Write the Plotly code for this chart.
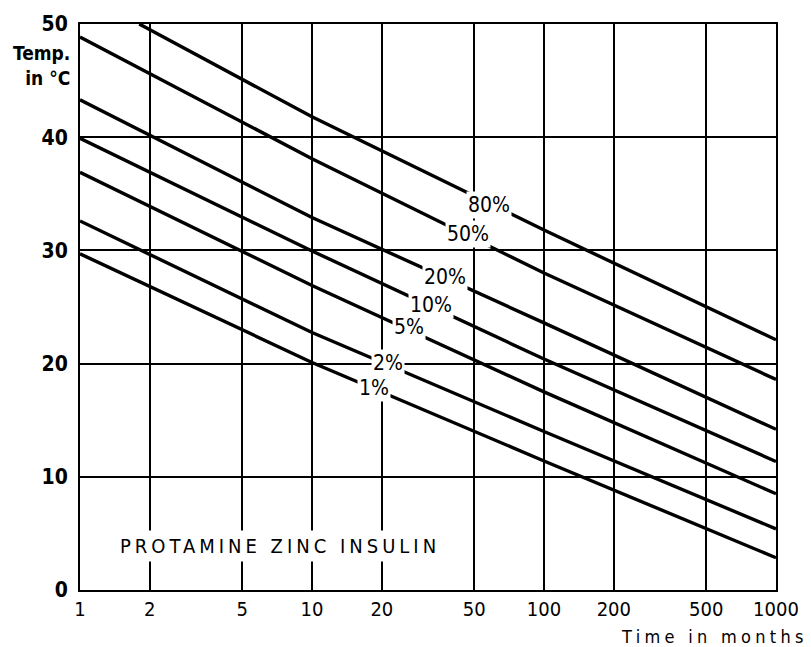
import numpy as np
import plotly.graph_objects as go

# ---- data ----
months = [1, 10, 100, 1000]
tick_months = [1, 2, 5, 10, 20, 50, 100, 200, 500, 1000]
tick_labels = ["1", "2", "5", "10", "20", "50", "100", "200", "500", "1000"]
temp_ticks = [0, 10, 20, 30, 40, 50]

months_80 = [1.8, 10, 100, 1000]
temp_80 = [50.0, 41.8, 31.8, 22.1]
temp_50 = [48.85, 38.1, 28.0, 18.6]
temp_20 = [43.3, 32.9, 23.6, 14.2]
temp_10 = [39.9, 29.95, 20.4, 11.35]
temp_5 = [36.9, 26.9, 17.5, 8.5]
temp_2 = [32.6, 22.75, 14.0, 5.4]
temp_1 = [29.7, 20.1, 11.4, 2.85]

label_names = ["80%", "50%", "20%", "10%", "5%", "2%", "1%"]
label_months = [58, 47, 37.6, 32.6, 26.2, 21.2, 18.5]

product_name = "PROTAMINE ZINC INSULIN"

series = [
    (months_80, temp_80),
    (months, temp_50),
    (months, temp_20),
    (months, temp_10),
    (months, temp_5),
    (months, temp_2),
    (months, temp_1),
]
label_shift = [-2, 2, 1, 1, 3, 2, 1]

FONT = "DejaVu Sans Condensed, Liberation Sans Narrow, DejaVu Sans, sans-serif"

fig = go.Figure()
for (xs, ys), name in zip(series, label_names):
    fig.add_trace(go.Scatter(x=xs, y=ys, mode="lines", name=name,
                             line=dict(color="black", width=3.4),
                             showlegend=False, hoverinfo="skip"))

# inline labels that break the curves (white box masks the line)
for (xs, ys), name, lm, sh in zip(series, label_names, label_months, label_shift):
    ly = float(np.interp(np.log10(lm), np.log10(xs), ys))
    fig.add_annotation(x=np.log10(lm), y=ly, xref="x", yref="y",
                       text=name, showarrow=False, yshift=sh,
                       font=dict(family=FONT, size=21, color="black"),
                       bgcolor="white", borderpad=1)

fig.add_annotation(x=np.log10(7.3), y=3.9, xref="x", yref="y",
                   text='<span style="letter-spacing:4px">' + product_name + '</span>',
                   showarrow=False,
                   font=dict(family=FONT, size=20, color="black"),
                   bgcolor="white", borderpad=3)

fig.add_annotation(x=0, y=0.972, xref="paper", yref="paper",
                   text="<b>Temp.</b><br><b>in °C</b>", showarrow=False,
                   xanchor="right", yanchor="top", align="right", xshift=-8,
                   font=dict(family=FONT, size=19, color="black"))

fig.add_annotation(x=1.0357, y=-0.082, xref="paper", yref="paper",
                   text='<span style="letter-spacing:4.3px">Time in months</span>',
                   showarrow=False, xanchor="right", yanchor="middle", xshift=9,
                   font=dict(family=FONT, size=18, color="black"))

fig.update_xaxes(type="log", range=[0, 3], tickvals=tick_months, ticktext=tick_labels,
                 showgrid=True, gridcolor="black", gridwidth=1.5,
                 showline=True, linecolor="black", linewidth=2, mirror=True,
                 ticks="", zeroline=False,
                 tickfont=dict(family=FONT, size=20, color="black"))
fig.update_yaxes(range=[0, 50], tickvals=temp_ticks,
                 showgrid=True, gridcolor="black", gridwidth=1.5,
                 showline=True, linecolor="black", linewidth=2, mirror=True,
                 ticks="", zeroline=False, ticklabelstandoff=6,
                 tickfont=dict(family=FONT, size=21, color="black", weight="bold"))

fig.update_layout(width=811, height=647,
                  margin=dict(l=80, r=31, t=20, b=57),
                  paper_bgcolor="white", plot_bgcolor="white")

fig.write_html("out.html", config={"displayModeBar": False},
               post_script="document.body.style.margin='0';")
